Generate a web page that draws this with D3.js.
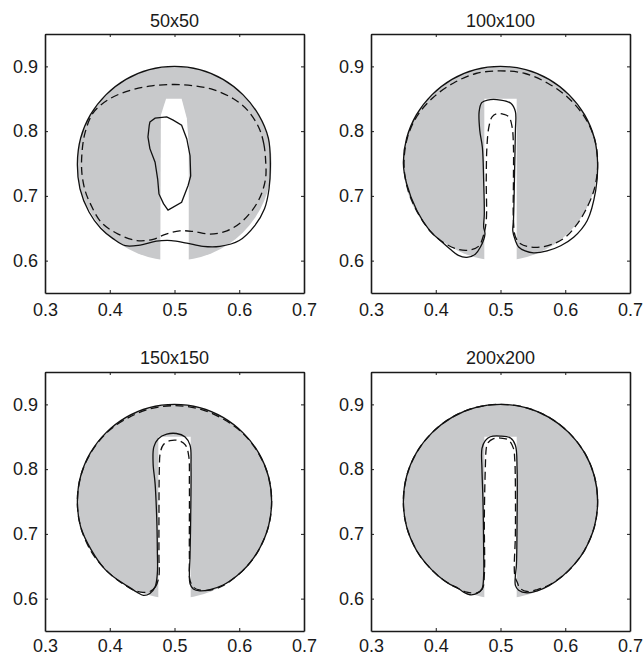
<!DOCTYPE html>
<html lang="en">
<head>
<meta charset="UTF-8">
<title>Slotted disk contours</title>
<script src="https://cdn.jsdelivr.net/npm/d3@7"></script>
<style>
  body { margin: 0; background: #fff; }
  text { font-family: "Liberation Sans", Arial, Helvetica, sans-serif; fill: #1a1a1a; }
  .tick line { stroke: #1a1a1a; stroke-width: 1; }
  .domain { stroke: #1a1a1a; stroke-width: 1.6; }
  .solid { fill: none; stroke: #111; stroke-width: 1.3; }
  .dashed { fill: none; stroke: #111; stroke-width: 1.3; stroke-dasharray: 8,4.5; }
</style>
</head>
<body>
<svg width="644" height="657"></svg>
<script>
var titles = ["50x50", "100x100", "150x150", "200x200"];
var xTicks = [0.3, 0.4, 0.5, 0.6, 0.7];
var yTicks = [0.6, 0.7, 0.8, 0.9];

// exact slotted disk (grey)
var diskCenter = [0.5, 0.75];
var diskRadius = 0.15;
var slot50 = [[0.478,0.59],[0.479,0.825],[0.487,0.850],[0.511,0.850],[0.519,0.820],[0.522,0.780],[0.522,0.59]];
var slotExact = [[0.475,0.59],[0.475,0.850],[0.525,0.850],[0.525,0.59]];

// 50x50 contours
var solid50Outer = [[0.648,0.750],[0.645,0.789],[0.630,0.825],[0.606,0.856],[0.575,0.880],[0.539,0.895],[0.500,0.900],
  [0.461,0.895],[0.425,0.880],[0.394,0.856],[0.370,0.825],[0.355,0.789],[0.350,0.750],[0.354,0.711],[0.368,0.675],
  [0.386,0.650],[0.405,0.634],[0.424,0.623],[0.447,0.624],[0.472,0.630],[0.495,0.631],[0.519,0.627],[0.544,0.622],
  [0.570,0.622],[0.600,0.631],[0.624,0.654],[0.639,0.680],[0.646,0.711]];
var solid50Inner = [[0.462,0.814],[0.470,0.820],[0.488,0.822],[0.498,0.817],[0.511,0.809],[0.519,0.788],[0.524,0.762],
  [0.525,0.731],[0.521,0.716],[0.511,0.690],[0.490,0.678],[0.483,0.688],[0.476,0.703],[0.474,0.726],[0.470,0.752],
  [0.462,0.773],[0.459,0.791],[0.461,0.809]];
var dashed50 = [[0.641,0.750],[0.638,0.780],[0.630,0.806],[0.613,0.832],[0.591,0.850],[0.560,0.864],[0.530,0.870],
  [0.500,0.872],[0.465,0.870],[0.432,0.863],[0.400,0.850],[0.375,0.829],[0.362,0.798],[0.357,0.765],[0.357,0.735],
  [0.362,0.708],[0.370,0.688],[0.387,0.659],[0.413,0.641],[0.442,0.631],[0.467,0.633],[0.487,0.641],[0.508,0.646],
  [0.529,0.645],[0.555,0.641],[0.581,0.646],[0.606,0.662],[0.627,0.688],[0.637,0.711],[0.641,0.730]];

// 100x100 contours
var solid100 = [[0.476,0.641],[0.469,0.621],[0.461,0.610],[0.448,0.605],[0.435,0.608],[0.422,0.618],[0.407,0.631],
  [0.391,0.646],[0.371,0.677],[0.355,0.719],[0.350,0.750],[0.355,0.789],[0.370,0.825],[0.394,0.856],[0.425,0.880],
  [0.461,0.895],[0.500,0.900],[0.539,0.895],[0.575,0.880],[0.606,0.856],[0.630,0.825],[0.645,0.789],[0.650,0.750],
  [0.647,0.708],[0.634,0.662],[0.613,0.636],[0.593,0.623],[0.572,0.615],[0.551,0.612],[0.538,0.615],[0.528,0.621],
  [0.523,0.631],[0.519,0.646],[0.520,0.662],[0.521,0.698],[0.522,0.750],[0.523,0.801],[0.523,0.830],[0.516,0.843],
  [0.500,0.848],[0.480,0.848],[0.471,0.844],[0.467,0.830],[0.468,0.801],[0.472,0.775],[0.474,0.724],[0.475,0.672],
  [0.474,0.652]];
var dashed100 = [[0.478,0.662],[0.474,0.640],[0.466,0.622],[0.450,0.616],[0.432,0.618],[0.412,0.628],[0.392,0.645],
  [0.371,0.676],[0.356,0.713],[0.351,0.750],[0.356,0.789],[0.371,0.823],[0.396,0.852],[0.427,0.874],[0.462,0.889],
  [0.500,0.893],[0.538,0.889],[0.573,0.874],[0.604,0.852],[0.629,0.823],[0.645,0.789],[0.650,0.750],[0.645,0.711],
  [0.630,0.675],[0.615,0.652],[0.600,0.636],[0.582,0.626],[0.562,0.621],[0.546,0.621],[0.531,0.626],[0.523,0.637],
  [0.520,0.662],[0.520,0.724],[0.520,0.775],[0.518,0.806],[0.513,0.822],[0.505,0.826],[0.495,0.827],[0.487,0.822],
  [0.482,0.806],[0.479,0.775],[0.478,0.724]];

// 150x150 contours
var solid150 = [[0.4735,0.639],[0.470,0.618],[0.462,0.608],[0.452,0.605],[0.442,0.610],[0.431,0.617],[0.412,0.629],
  [0.392,0.646],[0.371,0.676],[0.355,0.711],[0.350,0.750],[0.355,0.789],[0.370,0.825],[0.394,0.856],[0.425,0.880],
  [0.461,0.895],[0.500,0.900],[0.539,0.895],[0.575,0.880],[0.606,0.856],[0.630,0.825],[0.645,0.789],[0.650,0.750],
  [0.645,0.711],[0.630,0.675],[0.612,0.650],[0.596,0.635],[0.575,0.621],[0.555,0.614],[0.539,0.612],[0.529,0.615],
  [0.524,0.623],[0.523,0.639],[0.524,0.664],[0.525,0.726],[0.5255,0.803],[0.524,0.837],[0.516,0.850],[0.503,0.855],
  [0.488,0.854],[0.475,0.847],[0.468,0.834],[0.467,0.808],[0.470,0.778],[0.4725,0.726],[0.4735,0.675]];
var dashed150 = [[0.476,0.635],[0.471,0.619],[0.462,0.611],[0.448,0.610],[0.435,0.614],[0.420,0.623],[0.404,0.635],
  [0.385,0.654],[0.370,0.675],[0.355,0.711],[0.350,0.750],[0.355,0.789],[0.370,0.824],[0.394,0.855],[0.426,0.878],
  [0.462,0.893],[0.500,0.898],[0.538,0.893],[0.574,0.878],[0.606,0.855],[0.630,0.824],[0.645,0.789],[0.650,0.750],
  [0.645,0.711],[0.630,0.675],[0.612,0.650],[0.596,0.635],[0.575,0.620],[0.555,0.613],[0.540,0.613],[0.530,0.617],
  [0.524,0.628],[0.523,0.664],[0.523,0.778],[0.522,0.820],[0.517,0.837],[0.507,0.844],[0.493,0.844],[0.483,0.838],
  [0.478,0.825],[0.4766,0.800],[0.476,0.726],[0.476,0.664]];

// 200x200 contours
var solid200 = [[0.474,0.636],[0.4714,0.615],[0.4637,0.608],[0.453,0.606],[0.443,0.610],[0.433,0.617],[0.422,0.622],
  [0.404,0.635],[0.385,0.654],[0.370,0.675],[0.355,0.711],[0.350,0.750],[0.355,0.789],[0.370,0.825],[0.394,0.856],
  [0.425,0.880],[0.461,0.895],[0.500,0.900],[0.539,0.895],[0.575,0.880],[0.606,0.856],[0.630,0.825],[0.645,0.789],
  [0.650,0.750],[0.645,0.711],[0.630,0.675],[0.615,0.654],[0.596,0.635],[0.575,0.620],[0.557,0.612],[0.541,0.609],
  [0.528,0.613],[0.523,0.6205],[0.523,0.636],[0.5245,0.651],[0.5256,0.7235],[0.5256,0.800],[0.523,0.837],
  [0.5155,0.848],[0.500,0.851],[0.4843,0.850],[0.4765,0.844],[0.4714,0.832],[0.4714,0.800],[0.473,0.749],[0.474,0.672]];
var dashed200 = [[0.475,0.636],[0.472,0.615],[0.4637,0.609],[0.448,0.610],[0.436,0.615],[0.424,0.621],[0.404,0.635],
  [0.385,0.654],[0.370,0.675],[0.355,0.711],[0.350,0.750],[0.355,0.789],[0.370,0.825],[0.394,0.856],[0.425,0.880],
  [0.461,0.895],[0.500,0.900],[0.539,0.895],[0.575,0.880],[0.606,0.856],[0.630,0.825],[0.645,0.789],[0.650,0.750],
  [0.645,0.711],[0.630,0.675],[0.615,0.654],[0.596,0.635],[0.575,0.621],[0.557,0.614],[0.541,0.611],[0.530,0.616],
  [0.526,0.625],[0.522,0.636],[0.523,0.700],[0.523,0.775],[0.522,0.815],[0.520,0.832],[0.5126,0.845],[0.500,0.848],
  [0.4894,0.847],[0.480,0.840],[0.478,0.832],[0.4765,0.800],[0.475,0.7235]];

var panels = [
  { title: titles[0], slot: slot50, solid: [solid50Outer, solid50Inner], dashed: [dashed50], coarse: true },
  { title: titles[1], slot: slotExact, solid: [solid100], dashed: [dashed100] },
  { title: titles[2], slot: slotExact, solid: [solid150], dashed: [dashed150] },
  { title: titles[3], slot: slotExact, solid: [solid200], dashed: [dashed200] }
];

var svg = d3.select("svg");
var colLeft = [45, 371], rowTop = [34, 372], size = 259;

var x = d3.scaleLinear().domain([0.3, 0.7]).range([0, size]);
var y = d3.scaleLinear().domain([0.55, 0.95]).range([size, 0]);

var smooth = d3.line().x(function(d) { return x(d[0]); }).y(function(d) { return y(d[1]); })
    .curve(d3.curveCatmullRomClosed.alpha(0.5));
var straight = d3.line().x(function(d) { return x(d[0]); }).y(function(d) { return y(d[1]); })
    .curve(d3.curveLinearClosed);

panels.forEach(function(p, i) {
    var row = Math.floor(i / 2);
    var g = svg.append("g")
        .attr("transform", "translate(" + colLeft[i % 2] + "," + rowTop[row] + ")");

    // grey slotted disk
    g.append("ellipse")
        .attr("cx", x(diskCenter[0])).attr("cy", y(diskCenter[1]))
        .attr("rx", x(diskCenter[0] + diskRadius) - x(diskCenter[0]))
        .attr("ry", y(diskCenter[1] - diskRadius) - y(diskCenter[1]))
        .attr("fill", "#c8c9cb");
    g.append("path")
        .attr("d", straight(p.slot))
        .attr("fill", "#fff");

    p.solid.forEach(function(loop, k) {
        g.append("path").attr("class", "solid")
            .attr("d", (p.coarse && k === 1) ? straight(loop) : smooth(loop));
    });
    p.dashed.forEach(function(loop) {
        g.append("path").attr("class", "dashed").attr("d", smooth(loop));
    });

    // box with inward ticks
    g.append("g").attr("transform", "translate(0," + size + ")")
        .call(d3.axisBottom(x).tickValues(xTicks).tickSizeInner(-3).tickSizeOuter(0)
            .tickPadding(row === 0 ? 10 : 8)
            .tickFormat(d3.format(".1f")))
        .selectAll("text").attr("font-size", "18px");
    g.append("g")
        .call(d3.axisLeft(y).tickValues(yTicks).tickSizeInner(-3).tickSizeOuter(0).tickPadding(7)
            .tickFormat(d3.format(".1f")))
        .selectAll("text").attr("font-size", "18px");
    g.append("g")
        .call(d3.axisTop(x).tickValues(xTicks).tickSizeInner(-3).tickSizeOuter(0).tickFormat(""));
    g.append("g").attr("transform", "translate(" + size + ",0)")
        .call(d3.axisRight(y).tickValues(yTicks).tickSizeInner(-3).tickSizeOuter(0).tickFormat(""));
    g.selectAll(".domain").attr("stroke", "#1a1a1a").attr("stroke-width", 1.6);
    g.selectAll("text").attr("font-family", null).attr("fill", "#1a1a1a");

    g.append("text")
        .attr("x", size / 2).attr("y", row === 0 ? -7 : -8)
        .attr("text-anchor", "middle")
        .attr("font-size", "18px")
        .text(p.title);
});
</script>
</body>
</html>
